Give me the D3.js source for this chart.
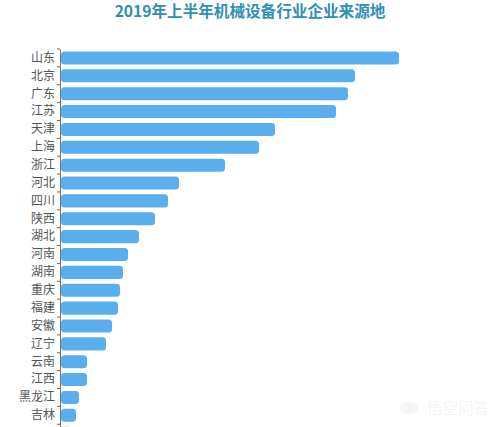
<!DOCTYPE html>
<html><head><meta charset="utf-8">
<script src="https://cdn.jsdelivr.net/npm/d3@7"></script>
<style>html,body{margin:0;padding:0;background:#fff;overflow:hidden}svg{display:block}</style>
</head><body><svg id="c" width="500" height="427"></svg>
<script>
const categories = ["山东","北京","广东","江苏","天津","上海","浙江","河北","四川","陕西","湖北","河南","湖南","重庆","福建","安徽","辽宁","云南","江西","黑龙江","吉林","山西"];
const values = [33.9,29.5,28.8,27.6,21.5,19.9,16.5,11.9,10.8,9.5,7.9,6.8,6.3,6.0,5.8,5.2,4.6,2.7,2.7,1.9,1.6,1.2];
const titleText = "2019年上半年机械设备行业企业来源地";
const watermarkText = "悟空问答";
const font = "'Noto Sans CJK SC','Noto Sans',sans-serif";
const svg = d3.select("#c");
const x = d3.scaleLinear().domain([0,34]).range([60,400]);
const y = d3.scaleBand().domain(categories).range([49,49+17.87*categories.length]).paddingInner(0.27).paddingOuter(0.135);
svg.append("text").attr("x",250).attr("y",17).attr("text-anchor","middle")
  .attr("font-family",font).attr("font-size",15.6).attr("font-weight",700).attr("fill","#2f8fb3").text(titleText);
svg.selectAll("rect.bar").data(values).join("rect").attr("class","bar")
  .attr("x",x(0)+1).attr("y",(d,i)=>y(categories[i]))
  .attr("width",d=>x(d)-x(0)-1).attr("height",y.bandwidth())
  .attr("rx",3.5).attr("fill","#5aaeee");
const ax = svg.append("g").attr("transform","translate(60,0)").call(d3.axisLeft(y).tickSizeOuter(0).tickSize(0).tickPadding(5));
ax.select(".domain").attr("stroke","#777").attr("stroke-width",1);
ax.selectAll("text").attr("font-family",font).attr("font-size",12).attr("fill","#555");
ax.selectAll(".tick").filter(d=>d===categories[categories.length-1]).select("text").remove();
const step = y.step();
svg.selectAll("line.t").data(d3.range(categories.length+1)).join("line").attr("class","t")
  .attr("x1",57).attr("x2",60).attr("y1",i=>49+i*step).attr("y2",i=>49+i*step)
  .attr("stroke","#666").attr("stroke-width",1);
svg.append("ellipse").attr("cx",409).attr("cy",408).attr("rx",10).attr("ry",6).attr("fill","#f6f6f6");
svg.append("text").attr("x",427).attr("y",414).attr("font-family",font).attr("font-size",15.5).attr("fill","#f5f5f5").text(watermarkText);
</script></body></html>
